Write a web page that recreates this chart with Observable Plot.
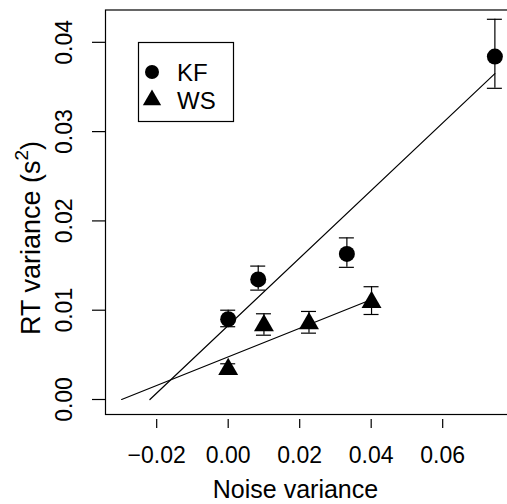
<!DOCTYPE html>
<html>
<head>
<meta charset="utf-8">
<script src="https://cdn.jsdelivr.net/npm/d3@7"></script>
<script src="https://cdn.jsdelivr.net/npm/@observablehq/plot@0.6"></script>
<style>
  html, body { margin: 0; padding: 0; background: white; }
  #chart { position: relative; width: 507px; height: 504px; }
</style>
</head>
<body>
<div id="chart"></div>
<script>
// ---- data ----
const groups = ["KF", "WS"];
const kfX  = [0, 0.0084, 0.0332, 0.0746];
const kfY  = [0.0090, 0.01345, 0.0163, 0.0384];
const kfLo = [0.00815, 0.01225, 0.0148, 0.03485];
const kfHi = [0.0100, 0.01494, 0.0181, 0.04258];
const wsX  = [0, 0.0100, 0.0226, 0.0401];
const wsY  = [0.0034, 0.0083, 0.0085, 0.0109];
const wsLo = [0.0029, 0.0072, 0.00743, 0.00952];
const wsHi = [0.0040, 0.0096, 0.00986, 0.01263];
const kfFitX = [-0.0219, 0.0746];
const kfFitY = [0, 0.0365];
const wsFitX = [-0.0298, 0.0401];
const wsFitY = [0, 0.0112];
const xTicks = [-0.02, 0, 0.02, 0.04, 0.06];
const yTicks = [0, 0.01, 0.02, 0.03, 0.04];
const xLabel = "Noise variance";
const yLabelMain = "RT variance (s";
const yLabelSup = "2";

// ---- tables ----
const kf = kfX.map((x, i) => ({x, y: kfY[i], lo: kfLo[i], hi: kfHi[i]}));
const ws = wsX.map((x, i) => ({x, y: wsY[i], lo: wsLo[i], hi: wsHi[i]}));
const pts = [...kf, ...ws];
const kfFit = kfFitX.map((x, i) => ({x, y: kfFitY[i]}));
const wsFit = wsFitX.map((x, i) => ({x, y: wsFitY[i]}));
const fmt = d => d.toFixed(2).replace("-", "\u2212");
const FONT = "'Liberation Sans', Arial, Helvetica, sans-serif";
const SW = 1.2;

const chart = Plot.plot({
  width: 507,
  height: 504,
  marginLeft: 105,
  marginRight: -1,
  marginTop: 9.5,
  marginBottom: 90,
  x: {domain: [-0.03432, 0.07841]},
  y: {domain: [-0.00168, 0.04362]},
  style: {fontFamily: FONT, background: "white", color: "black"},
  marks: [
    Plot.frame({stroke: "black", strokeWidth: SW}),
    Plot.axisX({ticks: xTicks, tickSize: 9, dy: 5, tickPadding: 18, fontSize: 23, tickFormat: fmt, label: null, stroke: "black", strokeWidth: SW}),
    Plot.axisY({ticks: yTicks, tickSize: 13, tickFormat: () => "", label: null, stroke: "black", strokeWidth: SW}),
    Plot.text(yTicks, {y: d => d, text: fmt, frameAnchor: "left", dx: -41, rotate: -90, textAnchor: "middle", lineAnchor: "middle", fontSize: 23, fill: "black"}),
    Plot.line(kfFit, {x: "x", y: "y", stroke: "black", strokeWidth: SW}),
    Plot.line(wsFit, {x: "x", y: "y", stroke: "black", strokeWidth: SW}),
    Plot.ruleX(pts, {x: "x", y1: "lo", y2: "hi", stroke: "black", strokeWidth: SW}),
    Plot.ruleY(pts, {x1: "x", x2: "x", y: "lo", insetLeft: -7.5, insetRight: -7.5, stroke: "black", strokeWidth: SW}),
    Plot.ruleY(pts, {x1: "x", x2: "x", y: "hi", insetLeft: -7.5, insetRight: -7.5, stroke: "black", strokeWidth: SW}),
    Plot.dot(kf, {x: "x", y: "y", r: 8, symbol: "circle", fill: "black", stroke: "none"}),
    Plot.dot(ws, {x: "x", y: "y", r: 7.4, symbol: "triangle", fill: "black", stroke: "none"})
  ]
});

const svg = d3.select(chart);
// y axis title
const yt = svg.append("text")
  .attr("transform", "translate(31,238) rotate(-90)")
  .attr("text-anchor", "middle")
  .attr("dominant-baseline", "central")
  .attr("font-family", FONT)
  .attr("font-size", 27)
  .attr("fill", "black");
yt.append("tspan").text(yLabelMain);
yt.append("tspan").attr("font-size", 19).attr("dy", -10).text(yLabelSup);
yt.append("tspan").attr("dy", 10).text(")");
// x axis title
svg.append("text")
  .attr("x", 295.5).attr("y", 498)
  .attr("text-anchor", "middle")
  .attr("font-family", FONT)
  .attr("font-size", 25)
  .attr("fill", "black")
  .text(xLabel);
// legend
const lg = svg.append("g");
lg.append("rect").attr("x", 138.5).attr("y", 42.5).attr("width", 95).attr("height", 79)
  .attr("fill", "white").attr("stroke", "black").attr("stroke-width", SW);
const rows = [72, 100];
lg.append("circle").attr("cx", 152).attr("cy", rows[0]).attr("r", 7).attr("fill", "black");
lg.append("path").attr("transform", `translate(152,${rows[1]})`)
  .attr("d", d3.symbol(d3.symbolTriangle, Math.PI * 6.8 * 6.8)()).attr("fill", "black");
groups.forEach((g, i) => {
  lg.append("text").attr("x", 177).attr("y", rows[i]).attr("dy", "0.36em")
    .attr("text-anchor", "start")
    .attr("font-family", FONT).attr("font-size", 24).attr("fill", "black").text(g);
});

document.getElementById("chart").appendChild(chart);
</script>
</body>
</html>
